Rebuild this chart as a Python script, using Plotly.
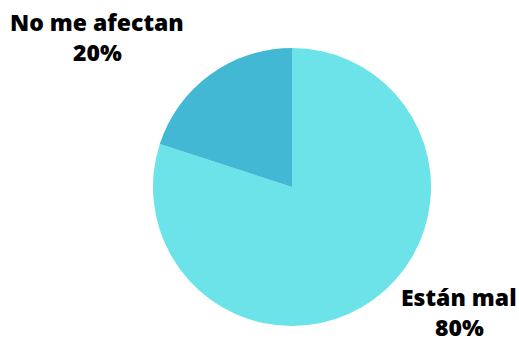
import plotly.graph_objects as go

# Survey answers and their shares (percent)
labels = ["Están mal", "No me afectan"]
values = [80, 20]
colors = ["#6BE3E8", "#42B8D5"]

fig = go.Figure(
    go.Pie(
        labels=labels,
        values=values,
        sort=False,
        direction="clockwise",
        rotation=0,
        marker=dict(colors=colors, line=dict(width=0)),
        textinfo="none",
        hoverinfo="label+percent",
        showlegend=False,
    )
)

label_font = dict(family="Open Sans", size=23, color="#000000", weight=800)

# Outside labels: (name line, percent line) anchored in paper coordinates
label_pos = {
    "No me afectan": (-0.201, 1.0935, 0.9856),
    "Están mal": (1.101, 0.1043, -0.0036),
}
for lab, v in zip(labels, values):
    x, y1, y2 = label_pos[lab]
    for txt, y in ((lab, y1), (f"{v}%", y2)):
        fig.add_annotation(
            text=txt, xref="paper", yref="paper", x=x, y=y,
            showarrow=False, font=label_font,
            xanchor="center", yanchor="middle",
        )

fig.update_layout(
    width=519,
    height=363,
    margin=dict(l=153, r=88, t=48, b=37),
    paper_bgcolor="white",
    plot_bgcolor="white",
)

fig.write_html("out.html")
